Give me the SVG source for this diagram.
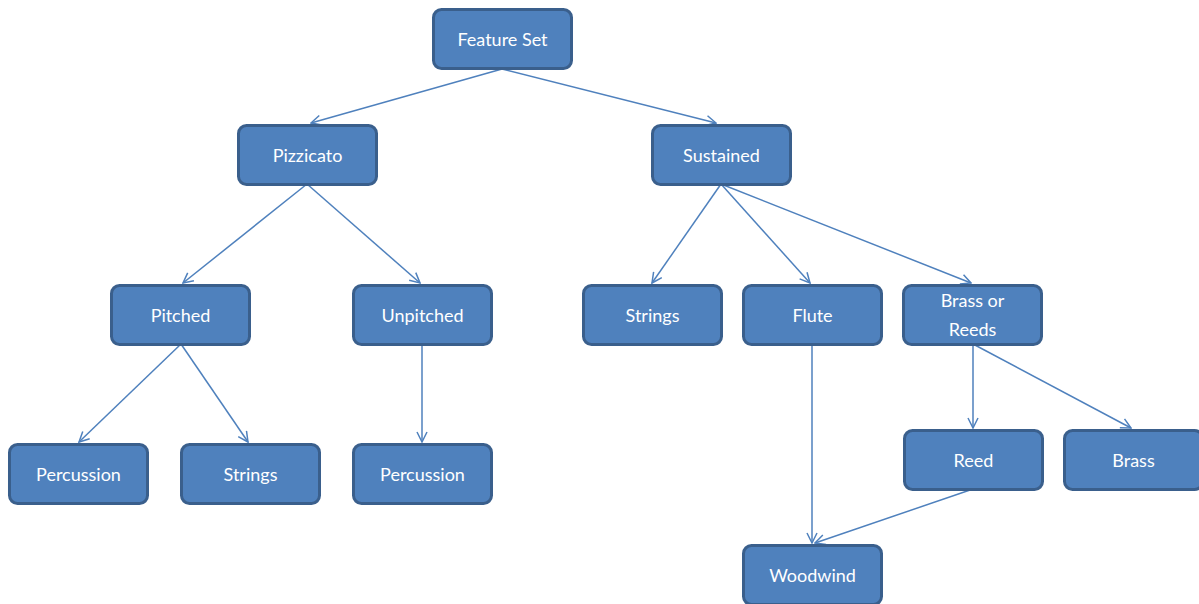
<svg xmlns="http://www.w3.org/2000/svg" width="1199" height="604" viewBox="0 0 1199 604">
<defs>
<style>
.n rect{fill:#4F81BD;stroke:#3A5F8C;stroke-width:3}
.n text{fill:#fff;font-family:Lato,"Liberation Sans",sans-serif;font-size:18px;text-anchor:middle}
.c line{stroke:#4F81BD;stroke-width:1.5;fill:none;marker-end:url(#a)}
</style>
<marker id="a" viewBox="0 0 12 12" refX="11" refY="6" markerWidth="12" markerHeight="12" markerUnits="userSpaceOnUse" orient="auto">
<path d="M1,1 L11,6 L1,11" fill="none" stroke="#4F81BD" stroke-width="1.5"/>
</marker>
</defs>
<rect width="1199" height="604" fill="#fff"/>
<g class="c">
<line x1="502" y1="69" x2="311" y2="123"/>
<line x1="502" y1="69" x2="716" y2="123"/>
<line x1="307" y1="184" x2="183" y2="283"/>
<line x1="307" y1="184" x2="420" y2="283"/>
<line x1="721" y1="184" x2="652" y2="283"/>
<line x1="721" y1="184" x2="810" y2="283"/>
<line x1="721" y1="184" x2="971" y2="283"/>
<line x1="181" y1="344" x2="79" y2="442"/>
<line x1="181" y1="344" x2="248" y2="442"/>
<line x1="422" y1="344" x2="422" y2="442"/>
<line x1="812" y1="344" x2="812" y2="543"/>
<line x1="973" y1="344" x2="973" y2="428"/>
<line x1="973" y1="344" x2="1131" y2="428"/>
<line x1="973" y1="489" x2="815" y2="543"/>
</g>
<g id="feature-set" class="n"><rect x="433.5" y="9.5" width="138" height="59" rx="8"/><text x="502.5" y="46">Feature Set</text></g>
<g id="pizzicato" class="n"><rect x="238.5" y="125.5" width="138" height="59" rx="8"/><text x="307.5" y="162">Pizzicato</text></g>
<g id="sustained" class="n"><rect x="652.5" y="125.5" width="138" height="59" rx="8"/><text x="721.5" y="162">Sustained</text></g>
<g id="pitched" class="n"><rect x="111.5" y="285.5" width="138" height="59" rx="8"/><text x="180.5" y="322">Pitched</text></g>
<g id="unpitched" class="n"><rect x="353.5" y="285.5" width="138" height="59" rx="8"/><text x="422.5" y="322">Unpitched</text></g>
<g id="strings-sustained" class="n"><rect x="583.5" y="285.5" width="138" height="59" rx="8"/><text x="652.5" y="322">Strings</text></g>
<g id="flute" class="n"><rect x="743.5" y="285.5" width="138" height="59" rx="8"/><text x="812.5" y="322">Flute</text></g>
<g id="brass-or-reeds" class="n"><rect x="903.5" y="285.5" width="138" height="59" rx="8"/><text x="972.5" y="307">Brass or</text><text x="972.5" y="336">Reeds</text></g>
<g id="percussion-pitched" class="n"><rect x="9.5" y="444.5" width="138" height="59" rx="8"/><text x="78.5" y="481">Percussion</text></g>
<g id="strings-pitched" class="n"><rect x="181.5" y="444.5" width="138" height="59" rx="8"/><text x="250.5" y="481">Strings</text></g>
<g id="percussion-unpitched" class="n"><rect x="353.5" y="444.5" width="138" height="59" rx="8"/><text x="422.5" y="481">Percussion</text></g>
<g id="reed" class="n"><rect x="904.5" y="430.5" width="138" height="59" rx="8"/><text x="973.5" y="467">Reed</text></g>
<g id="brass" class="n"><rect x="1064.5" y="430.5" width="138" height="59" rx="8"/><text x="1133.5" y="467">Brass</text></g>
<g id="woodwind" class="n"><rect x="743.5" y="545.5" width="138" height="59" rx="8"/><text x="812.5" y="582">Woodwind</text></g>
</svg>
